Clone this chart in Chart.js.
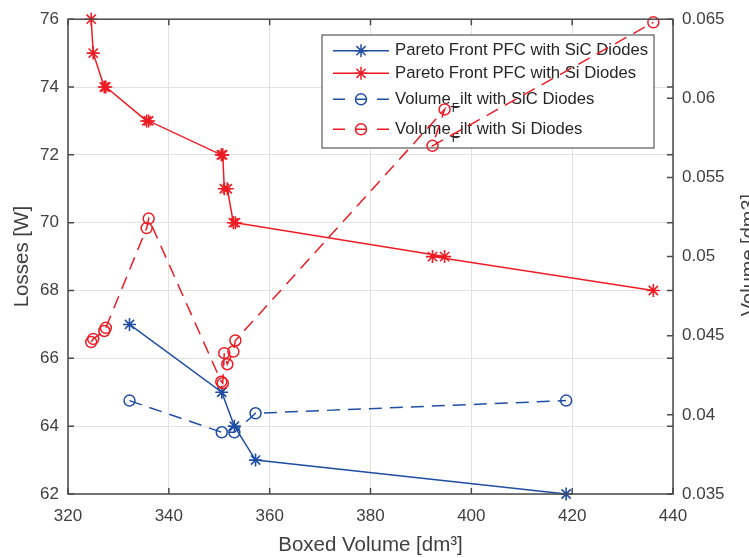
<!DOCTYPE html>
<html>
<head>
<meta charset="utf-8">
<script src="https://cdn.jsdelivr.net/npm/chart.js@4.4.0/dist/chart.umd.min.js"></script>
<style>
  html, body { margin: 0; padding: 0; background: #fff; }
</style>
</head>
<body>
<canvas id="pareto-chart" width="749" height="558"></canvas>
<script>
// Si diodes (red)
const siBoxedVolume = [324.6, 325.0, 327.2, 327.5, 335.6, 336.0, 350.4, 350.7, 351.0, 351.6, 352.8, 353.2, 394.7, 392.3, 436.1]
const siLosses = [76, 75, 74, 74, 73, 73, 72, 72, 71, 71, 70, 70, 69, 69, 68]
const siFilterVolume = [0.0446, 0.0448, 0.0453, 0.0455, 0.0518, 0.0524, 0.0421, 0.0420, 0.0439, 0.0432, 0.0440, 0.0447, 0.0593, 0.0570, 0.0648]

// SiC diodes (blue)
const sicBoxedVolume = [332.2, 350.5, 353.0, 357.2, 418.8]
const sicLosses = [67, 65, 64, 63, 62]
const sicFilterVolume = [0.0409, 0.0389, 0.0389, 0.0401, 0.0409]

const blue = 'rgb(31, 78, 163)'
const red = 'rgb(237, 28, 36)'
const textGrey = '#404040'
const lineGrey = '#4a4a4a'
const gridGrey = '#e2e2e2'
const family = "'Liberation Sans', Arial, sans-serif"

const ctx = document.getElementById('pareto-chart')

function toPoints(xs, ys) {
  return xs.map((x, i) => ({ x: x, y: ys[i] }))
}

// legend drawn by hand so it can sit under the right-axis lines like in matlab
function drawLegend(chart) {
  const c = chart.ctx
  const rows = [50.7, 73.3, 99.3, 129.3]
  c.save()
  c.fillStyle = '#fff'
  c.fillRect(322, 35, 332, 113)
  c.strokeStyle = '#5a5a5a'
  c.lineWidth = 1.2
  c.strokeRect(322, 35, 332, 113)
  chart.data.datasets.forEach((ds, i) => {
    const y = rows[i]
    c.strokeStyle = ds.borderColor
    c.lineWidth = 1.5
    c.setLineDash(ds.borderDash ? [12, 10] : [])
    c.beginPath()
    c.moveTo(333, y)
    c.lineTo(389, y)
    c.stroke()
    c.setLineDash([])
    c.fillStyle = 'rgba(0,0,0,0)'
    Chart.helpers.drawPoint(c, { pointStyle: ds.pointStyle, radius: ds.pointRadius, borderWidth: 1.5, rotation: 0 }, 361, y)

    c.fillStyle = '#262626'
    c.font = '16.7px ' + family
    c.textBaseline = 'middle'
    c.textAlign = 'left'
    if (ds.label.startsWith('Volume_F')) {
      const rest = ds.label.replace('Volume_F', 'Volume_')
      c.fillText(rest, 395, y)
      const w = c.measureText('Volume').width
      c.font = '12px ' + family
      c.fillText('F', 395 + w + 1, y + 9)
    } else {
      c.fillText(ds.label, 395, y)
    }
  })
  c.restore()
}

const framePlugin = {
  id: 'frame',
  beforeDatasetDraw(chart, args) {
    if (args.index === 3) drawLegend(chart)
  },
  afterDraw(chart) {
    const c = chart.ctx
    const { left, right, top, bottom } = chart.chartArea
    const { x, y, y1 } = chart.scales
    c.save()
    c.strokeStyle = lineGrey
    c.lineWidth = 1.5
    c.strokeRect(left, top, right - left, bottom - top)
    c.beginPath()
    x.ticks.forEach(t => {
      const px = x.getPixelForValue(t.value)
      c.moveTo(px, bottom); c.lineTo(px, bottom - 6)
      c.moveTo(px, top); c.lineTo(px, top + 6)
    })
    y.ticks.forEach(t => {
      const py = y.getPixelForValue(t.value)
      c.moveTo(left, py); c.lineTo(left + 6, py)
      c.moveTo(right, py); c.lineTo(right - 6, py)
    })
    y1.ticks.forEach(t => {
      const py = y1.getPixelForValue(t.value)
      c.moveTo(right, py); c.lineTo(right - 6, py)
    })
    c.stroke()

    // right axis title, mostly cut off by the figure edge
    c.translate(755, 255)
    c.rotate(-Math.PI / 2)
    c.fillStyle = textGrey
    c.font = '20px ' + family
    c.textAlign = 'center'
    c.textBaseline = 'alphabetic'
    c.fillText('Volume [dm3]', 0, 0)
    c.restore()
  }
}

const paretoChart = new Chart(ctx, {
  type: 'scatter',
  data: {
    datasets: [{
      label: 'Pareto Front PFC with SiC Diodes',
      data: toPoints(sicBoxedVolume, sicLosses),
      yAxisID: 'y',
      borderColor: blue,
      backgroundColor: blue,
      borderWidth: 1.5,
      pointStyle: 'star',
      pointRadius: 6.5,
      pointBorderWidth: 1.6,
      showLine: true,
      clip: false,
      order: 2
    }, {
      label: 'Pareto Front PFC with Si Diodes',
      data: toPoints(siBoxedVolume, siLosses),
      yAxisID: 'y',
      borderColor: red,
      backgroundColor: red,
      borderWidth: 1.5,
      pointStyle: 'star',
      pointRadius: 6.5,
      pointBorderWidth: 1.6,
      showLine: true,
      clip: false,
      order: 2
    }, {
      label: 'Volume_Filt with SiC Diodes',
      data: toPoints(sicBoxedVolume, sicFilterVolume),
      yAxisID: 'y1',
      borderColor: blue,
      backgroundColor: 'rgba(0,0,0,0)',
      borderWidth: 1.5,
      borderDash: [13, 8],
      pointStyle: 'circle',
      pointRadius: 5.5,
      pointBorderWidth: 1.5,
      showLine: true,
      clip: false,
      order: 1
    }, {
      label: 'Volume_Filt with Si Diodes',
      data: toPoints(siBoxedVolume, siFilterVolume),
      yAxisID: 'y1',
      borderColor: red,
      backgroundColor: 'rgba(0,0,0,0)',
      borderWidth: 1.5,
      borderDash: [13, 8],
      pointStyle: 'circle',
      pointRadius: 5.5,
      pointBorderWidth: 1.5,
      showLine: true,
      clip: false,
      order: 1
    }]
  },
  options: {
    responsive: false,
    animation: false,
    devicePixelRatio: 1,
    layout: { padding: { top: 16, left: 0, right: 0, bottom: 0 } },
    plugins: {
      legend: { display: false },
      tooltip: { enabled: false }
    },
    scales: {
      x: {
        type: 'linear',
        position: 'bottom',
        min: 320,
        max: 440,
        ticks: { stepSize: 20, padding: 12, color: textGrey, font: { family: family, size: 17 } },
        grid: { color: gridGrey, drawTicks: false },
        border: { display: false },
        title: { display: true, text: 'Boxed Volume [dm³]', color: textGrey, font: { family: family, size: 20.5 }, padding: 0 },
        afterFit: (s) => { s.height = 64 }
      },
      y: {
        position: 'left',
        min: 62,
        max: 76,
        ticks: { stepSize: 2, padding: 9, color: textGrey, font: { family: family, size: 17 } },
        grid: { color: gridGrey, drawTicks: false },
        border: { display: false },
        title: { display: true, text: 'Losses [W]', color: textGrey, font: { family: family, size: 20.5 }, padding: { top: 10, bottom: 0 } },
        afterFit: (s) => { s.width = 68 }
      },
      y1: {
        position: 'right',
        min: 0.035,
        max: 0.065,
        ticks: {
          stepSize: 0.005,
          padding: 9,
          color: textGrey,
          font: { family: family, size: 17 },
          callback: (v) => Number(v.toFixed(3)).toString()
        },
        grid: { drawOnChartArea: false, drawTicks: false },
        border: { display: false },
        afterFit: (s) => { s.width = 76 }
      }
    }
  },
  plugins: [framePlugin]
})
</script>
</body>
</html>
